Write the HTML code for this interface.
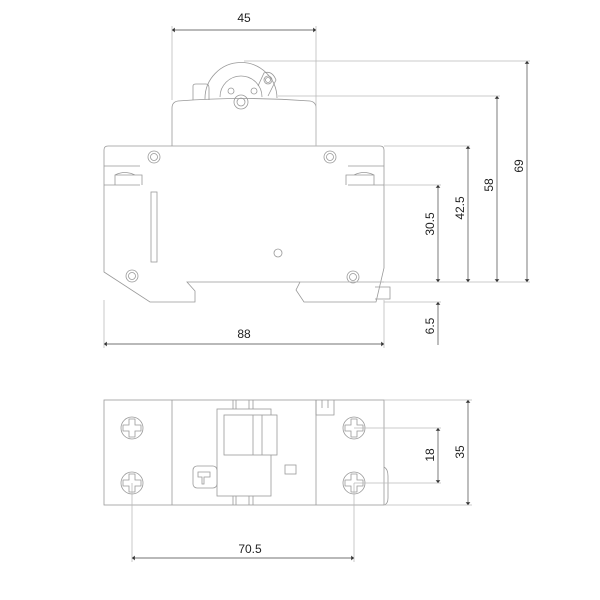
<!DOCTYPE html>
<html><head><style>body{margin:0;background:#fff}svg{display:block}</style></head><body>
<svg width="600" height="600" viewBox="0 0 600 600" xmlns="http://www.w3.org/2000/svg" font-family="Liberation Sans, sans-serif" font-size="12" fill="none" stroke="#999" stroke-width="0.8">
<defs><marker id="a" viewBox="0 0 6 10" refX="6" refY="5" markerWidth="4" markerHeight="7" orient="auto-start-reverse"><path d="M0,0L6,5L0,10z" fill="#333" stroke="none"/></marker>
<g id="s" stroke="#999" fill="none" stroke-width="0.8"><circle cx="0" cy="0" r="11"/><path d="M-3,-9 H3 V-3 H9 V3 H3 V9 H-3 V3 H-9 V-3 H-3Z"/></g>
</defs>
<!-- top view body -->
<g stroke="#999">
<path d="M172,146 V108 Q172,102 178,101 Q244,96 310,101 Q316,102 316,108 V146"/>
<path d="M108,146 H380 Q384,146 384,150 V268 L376,302 H304 L296,290 L300,282 H187 L195,291 V302 H150 L104,272 V150 Q104,146 108,146Z"/>
<path d="M104,166 H140 M104,185 H140 M348,166 H384 M348,185 H384"/>
<path d="M115,185 V175 H142 V185 M115,175 Q125,170 135,175"/>
<path d="M346,185 V175 H374 V185 M354,175 Q364,170 374,175"/>
<rect x="151" y="192" width="6" height="70"/>
<circle cx="278" cy="253" r="4"/>
<circle cx="154" cy="157" r="6"/><circle cx="154" cy="157" r="3.5"/>
<circle cx="330" cy="157" r="6"/><circle cx="330" cy="157" r="3.5"/>
<circle cx="132" cy="276" r="6"/><circle cx="132" cy="276" r="3.5"/>
<circle cx="353" cy="277" r="6"/><circle cx="353" cy="277" r="3.5"/>
<path d="M300,282 H384 M375,287 H390 V299 H375"/>
<path d="M193,100 V86 Q193,84 196,84 H206 Q209,84 209,88 V100"/>
<path d="M205,99 A33,33 0 0 1 277,98"/>
<path d="M220,97 A21,21 0 0 1 262,97"/>
<circle cx="241" cy="102" r="7"/><circle cx="241" cy="102" r="4"/>
<circle cx="231" cy="91" r="3"/><circle cx="254" cy="91" r="3"/>
<path d="M258,86 L264,73 Q272,70 276,80 L268,96"/>
<circle cx="268" cy="80" r="4"/><circle cx="268" cy="80" r="2.5"/>
</g>
<!-- top view dims -->
<g stroke="#bbb">
<path d="M172,26 V100 M316,26 V146"/>
<path d="M244,61 H530 M278,96 H500 M384,146 H470 M384,185 H441 M300,282 H530 M384,302 H441"/>
<path d="M104,300 V348 M384,300 V348"/>
</g>
<g stroke="#444" stroke-width="0.7">
<line x1="172" y1="30" x2="316" y2="30" marker-start="url(#a)" marker-end="url(#a)"/>
<line x1="104" y1="344" x2="384" y2="344" marker-start="url(#a)" marker-end="url(#a)"/>
<line x1="527" y1="61" x2="527" y2="282" marker-start="url(#a)" marker-end="url(#a)"/>
<line x1="497" y1="96" x2="497" y2="282" marker-start="url(#a)" marker-end="url(#a)"/>
<line x1="468" y1="146" x2="468" y2="282" marker-start="url(#a)" marker-end="url(#a)"/>
<line x1="438" y1="185" x2="438" y2="282" marker-start="url(#a)" marker-end="url(#a)"/>
<line x1="438" y1="345" x2="438" y2="302" marker-end="url(#a)"/>
</g>
<g fill="#222" stroke="none">
<text x="244" y="22" text-anchor="middle">45</text>
<text x="244" y="338" text-anchor="middle">88</text>
<text transform="translate(523,166) rotate(-90)" text-anchor="middle">69</text>
<text transform="translate(493,185) rotate(-90)" text-anchor="middle">58</text>
<text transform="translate(464,208) rotate(-90)" text-anchor="middle">42.5</text>
<text transform="translate(434,224) rotate(-90)" text-anchor="middle">30.5</text>
<text transform="translate(434,326) rotate(-90)" text-anchor="middle">6.5</text>
</g>
<!-- bottom view -->
<g stroke="#999">
<rect x="104" y="400" width="280" height="105"/>
<path d="M172,400 V505 M316,400 V505"/>
<path d="M233,400 V409 M236,400 V409 M249,400 V409 M253,400 V409 M233,496 V505 M236,496 V505 M249,496 V505 M253,496 V505"/>
<rect x="217" y="409" width="54" height="87"/>
<rect x="224" y="415" width="53" height="40" fill="#fff"/>
<path d="M253,415 V455 M262,415 V455"/>
<rect x="193" y="466" width="24" height="22" rx="4" fill="#fff"/>
<path d="M198,472 V477 H202 V484 H204 V477 H210 V472 Z"/>
<rect x="285" y="465" width="11" height="9"/>
<path d="M316,400 V415 H334 V400 M322,400 V408 M328,400 V408"/>
<path d="M384,467 Q388,469 388,476 V498 Q388,504 384,505"/>
</g>
<use href="#s" x="132" y="428"/><use href="#s" x="132" y="483"/><use href="#s" x="354" y="428"/><use href="#s" x="354" y="483"/>
<g stroke="#bbb">
<path d="M384,400 H472 M384,505 H472 M354,428 H441 M354,483 H441 M132,483 V562 M354,483 V562"/>
</g>
<g stroke="#444" stroke-width="0.7">
<line x1="468" y1="400" x2="468" y2="505" marker-start="url(#a)" marker-end="url(#a)"/>
<line x1="438" y1="428" x2="438" y2="483" marker-start="url(#a)" marker-end="url(#a)"/>
<line x1="132" y1="558" x2="354" y2="558" marker-start="url(#a)" marker-end="url(#a)"/>
</g>
<g fill="#222" stroke="none">
<text transform="translate(464,452) rotate(-90)" text-anchor="middle">35</text>
<text transform="translate(434,455) rotate(-90)" text-anchor="middle">18</text>
<text x="250" y="553" text-anchor="middle">70.5</text>
</g>
</svg>
</body></html>
